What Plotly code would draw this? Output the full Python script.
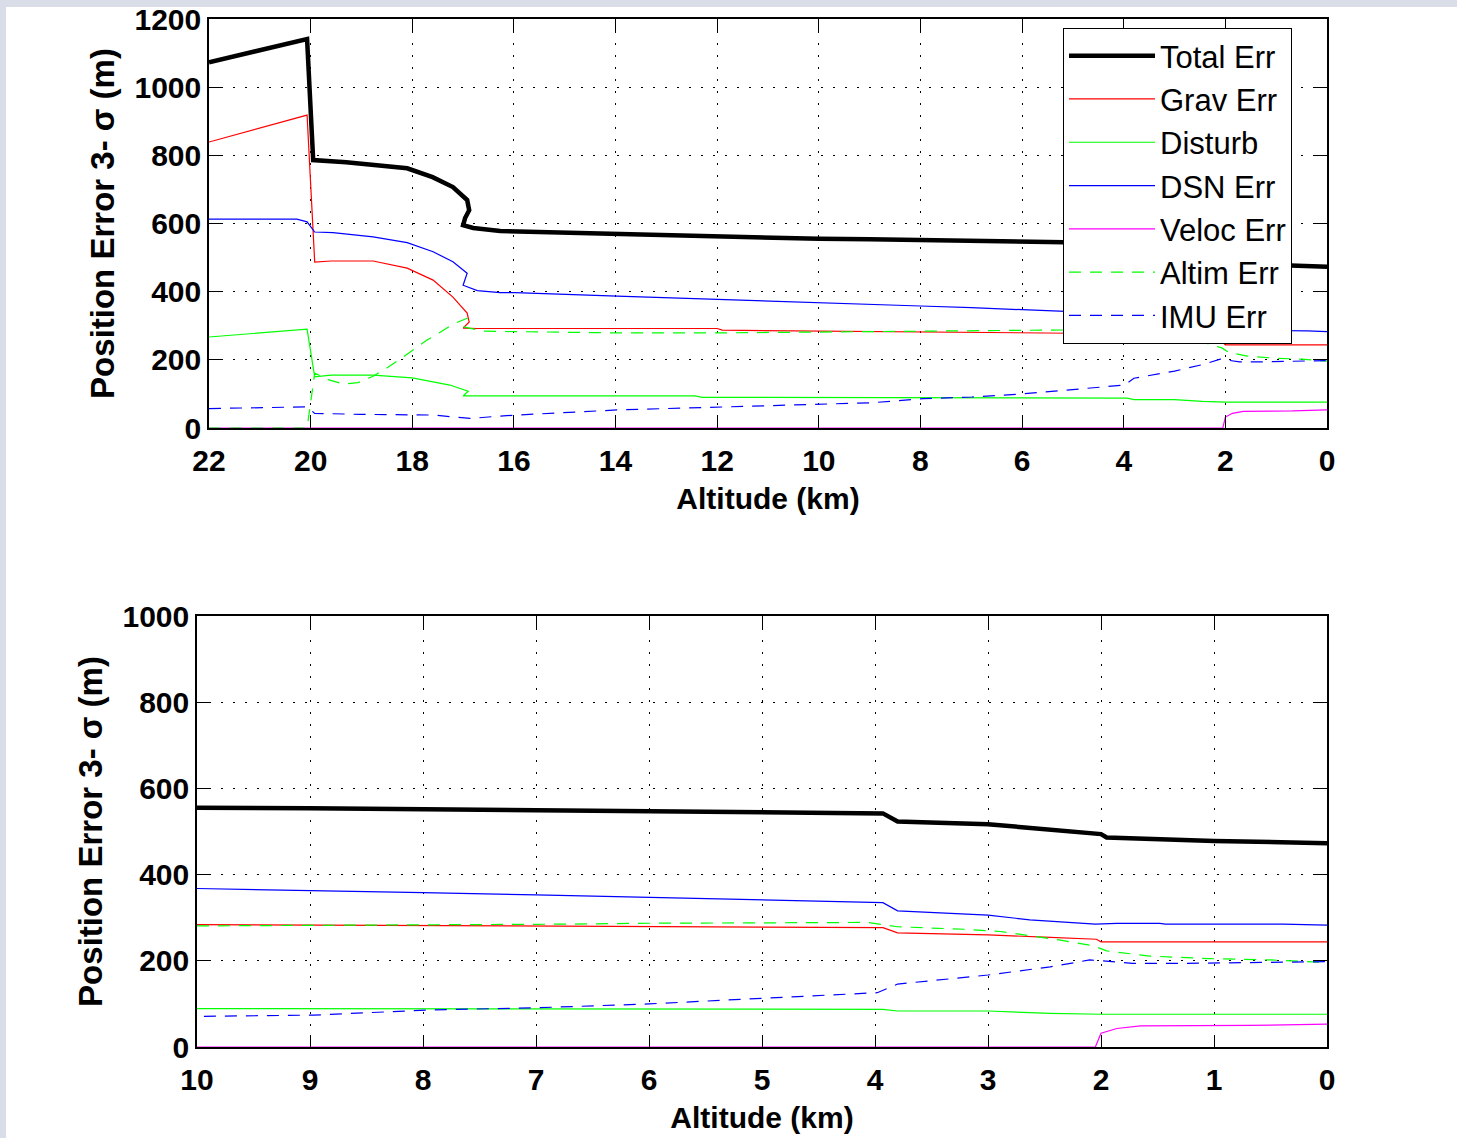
import plotly.graph_objects as go

# ---------------- data (altitude km, error m) ----------------
total_alt = [22, 20.07, 19.95, 19.3, 18.1, 17.6, 17.2, 16.92, 16.88, 16.96, 17.0, 16.8, 16.27, 15.5, 14.0,
             12.0, 10.0, 9.0, 8.0, 7.0, 6.0, 5.0, 4.2, 3.93, 3.8, 3.0, 2.7, 2.2, 2.0, 1.95, 1.0, 0.0]
total_val = [1073, 1141, 786, 780, 762, 736, 707, 669, 639, 616, 595, 587, 578, 575, 572,
             563, 555, 554, 552, 548, 546, 545, 543, 542, 523, 517, 510, 499, 494, 486, 478, 473]

grav_alt = [22, 20.07, 19.92, 19.6, 18.77, 18.1, 17.59, 17.2, 16.92, 16.88, 17.0, 16.72, 14.0, 12.0, 11.9,
            10.0, 9.0, 7.0, 5.0, 3.93, 3.8, 3.0, 2.5, 2.04, 2.0, 1.7, 0.0]
grav_val = [839, 918, 487, 490, 490, 469, 434, 384, 337, 311, 293, 292, 292, 292, 287,
            284, 283, 281, 278, 277, 265, 260, 255, 250, 244, 244, 244]

dist_alt = [22, 20.07, 19.92, 19.6, 18.77, 18.0, 17.26, 16.9, 17.0, 16.27, 12.43, 12.3, 10.0, 9.0, 8.8,
            3.93, 3.8, 3.0, 2.45, 2.0, 0.0]
dist_val = [267, 290, 150, 155, 155, 147, 126, 108, 94, 94, 94, 90, 89, 89, 87.5,
            87.5, 83.5, 83.5, 78, 76, 76]

dsn_alt = [22, 20.27, 20.07, 19.92, 19.56, 18.77, 18.1, 17.59, 17.2, 16.92, 17.0, 16.72, 16.27, 15.98, 13.97,
           12.0, 10.0, 9.0, 8.0, 7.0, 6.0, 5.0, 3.93, 3.8, 3.0, 2.63, 2.05, 1.86, 1.48, 1.43, 0.39, 0.0]
dsn_val = [613, 613, 605, 575, 573, 561, 544, 517, 488, 454, 419, 403, 397, 397, 387,
           378, 368, 363, 358, 353, 347, 341, 335, 316, 306, 295, 285, 287, 287, 285, 285, 283]

vel_alt = [22, 2.05, 2.0, 1.86, 1.65, 1.2, 0.68, 0.0]
vel_val = [0, 0, 32, 43, 49, 49, 50, 53]

alt_alt = [22, 20.07, 19.92, 19.64, 19.36, 19.07, 18.77, 18.5, 18.24, 17.98, 17.71, 17.45, 17.2, 16.92, 17.0,
           16.6, 14.0, 12.0, 10.0, 8.97, 7.85, 6.76, 6.1, 5.0, 4.07, 3.8, 3.19, 2.89, 2.36, 2.07, 1.95,
           1.57, 1.04, 0.5, 0.0]
alt_val = [0, 0, 161, 141, 129, 133, 152, 176, 202, 229, 258, 281, 305, 322, 297,
           284, 279, 279, 281, 282, 284, 285, 287, 288, 289, 279, 273, 268, 248, 235, 223,
           211, 205, 202, 196]

imu_alt = [22, 20.07, 19.92, 19.03, 17.59, 17.2, 16.86, 16.27, 15.94, 13.97, 12.0, 10.0, 8.97, 7.94, 6.99,
           6.0, 5.0, 3.98, 3.8, 3.44, 3.0, 2.45, 2.1, 2.0, 1.72, 1.27, 0.0]
imu_val = [57, 62, 43, 40, 38, 33, 28, 35, 38, 53, 61, 71, 74, 86, 91,
           100, 113, 126, 146, 155, 167, 186, 202, 200, 194, 194, 198]

series = [
    ("Total Err", total_alt, total_val, "#000000", 4.5, "solid"),
    ("Grav Err", grav_alt, grav_val, "#ff0000", 1.2, "solid"),
    ("Disturb", dist_alt, dist_val, "#00ff00", 1.2, "solid"),
    ("DSN Err", dsn_alt, dsn_val, "#0000ff", 1.2, "solid"),
    ("Veloc Err", vel_alt, vel_val, "#ff00ff", 1.2, "solid"),
    ("Altim Err", alt_alt, alt_val, "#00ff00", 1.2, "12px,9px"),
    ("IMU Err", imu_alt, imu_val, "#0000ff", 1.2, "12px,9px"),
]

top_xticks = [22, 20, 18, 16, 14, 12, 10, 8, 6, 4, 2, 0]
bot_xticks = [10, 9, 8, 7, 6, 5, 4, 3, 2, 1, 0]

W, H = 1457, 1138
fig = go.Figure()

for name, x, y, color, width, dash in series:
    fig.add_trace(go.Scatter(x=x, y=y, mode="lines", name=name,
                             line=dict(color=color, width=width, dash=dash),
                             xaxis="x", yaxis="y", showlegend=True))
for name, x, y, color, width, dash in series:
    fig.add_trace(go.Scatter(x=x, y=y, mode="lines", name=name,
                             line=dict(color=color, width=width, dash=dash),
                             xaxis="x2", yaxis="y2", showlegend=False))

FAM = "Liberation Sans, Arial, sans-serif"
tickfont = dict(family=FAM, size=30, color="black", weight="bold")
titlefont = dict(family=FAM, size=30, color="black", weight="bold")
ytitlefont = dict(family=FAM, size=33, color="black", weight="bold")

common = dict(showline=True, linecolor="black", linewidth=1.5, mirror="ticks",
              ticks="inside", ticklen=12, tickcolor="black", tickwidth=1.2,
              showgrid=True, gridcolor="black", gridwidth=1.2, griddash="2px,10px",
              zeroline=False, tickfont=tickfont, automargin=False)

fig.update_layout(
    width=W, height=H,
    margin=dict(l=0, r=0, t=0, b=0, pad=0),
    paper_bgcolor="#d9dde7",
    plot_bgcolor="white",
    xaxis=dict(domain=[209 / W, 1327 / W], range=[22, 0], tickvals=top_xticks, ticklabelstandoff=5,
               anchor="y", title=dict(text="Altitude (km)", font=titlefont, standoff=12), **common),
    yaxis=dict(domain=[1 - 428 / H, 1 - 19 / H], range=[0, 1200], dtick=200,
               anchor="x", title=dict(text="Position Error 3- σ (m)", font=ytitlefont, standoff=10), **common),
    xaxis2=dict(domain=[197 / W, 1327 / W], range=[10, 0], tickvals=bot_xticks, ticklabelstandoff=5,
                anchor="y2", title=dict(text="Altitude (km)", font=titlefont, standoff=12), **common),
    yaxis2=dict(domain=[1 - 1047 / H, 1 - 616 / H], range=[0, 1000], dtick=200,
                anchor="x2", title=dict(text="Position Error 3- σ (m)", font=ytitlefont, standoff=10), **common),
    legend=dict(x=1063 / W, y=1 - 28 / H, xanchor="left", yanchor="top",
                bgcolor="white", bordercolor="black", borderwidth=1,
                font=dict(family=FAM, size=31, color="black"),
                itemwidth=86, tracegroupgap=0),
    shapes=[dict(type="rect", xref="paper", yref="paper", x0=6 / W, x1=1, y0=0, y1=1 - 7 / H,
                 fillcolor="white", line=dict(width=0), layer="below")],
    showlegend=True,
)

fig.write_html("out.html")
